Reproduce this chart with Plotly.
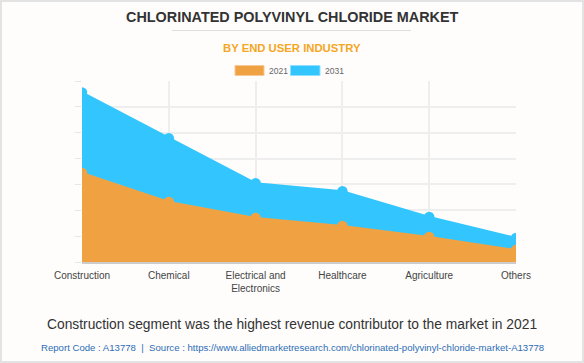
import plotly.graph_objects as go

categories = ["Construction", "Chemical", "Electrical and<br>Electronics", "Healthcare", "Agriculture", "Others"]
values_2021 = [3.44, 2.32, 1.70, 1.39, 0.97, 0.46]
values_2031 = [6.56, 4.79, 3.05, 2.74, 1.74, 0.93]
series_names = ["2021", "2031"]

W, H = 584, 363
L, R, T, B = 82, 68, 81, 101
PW, PH = W - L - R, H - T - B

def px(x):
    return (x - L) / PW

def py(y):
    return 1 - (y - T) / PH

ORANGE = "#F0A243"
BLUE = "#33C6FE"
BG = "#FEFDFC"
FONT = "Liberation Sans, Arial"
CX = 292

fig = go.Figure()
fig.add_trace(go.Scatter(x=categories, y=values_2031, name=series_names[1], mode="lines+markers",
                         fill="tozeroy", fillcolor=BLUE, line=dict(color=BLUE, width=2),
                         marker=dict(size=10.5, color=BLUE), showlegend=False))
fig.add_trace(go.Scatter(x=categories, y=values_2021, name=series_names[0], mode="lines+markers",
                         fill="tozeroy", fillcolor=ORANGE, line=dict(color=ORANGE, width=2),
                         marker=dict(size=10.5, color=ORANGE), showlegend=False))

shapes = [
    dict(type="rect", xref="paper", yref="paper", x0=px(1), x1=px(W - 1), y0=py(H - 1), y1=py(1),
         line=dict(color="#E3E3E3", width=2), fillcolor="rgba(0,0,0,0)", layer="below"),
    dict(type="line", xref="paper", yref="paper", x0=px(172), x1=px(411), y0=py(30.5), y1=py(30.5),
         line=dict(color="#DDDDDD", width=1)),
    dict(type="rect", xref="paper", yref="paper", x0=px(235), x1=px(264), y0=py(75.5), y1=py(65.5),
         fillcolor=ORANGE, line=dict(color="#F7C994", width=1)),
    dict(type="rect", xref="paper", yref="paper", x0=px(290.5), x1=px(320), y0=py(75.5), y1=py(65.5),
         fillcolor=BLUE, line=dict(color="#8FE0FF", width=1)),
]

annotations = [
    dict(text="<b>CHLORINATED POLYVINYL CHLORIDE MARKET</b>", x=px(CX), y=py(17), xref="paper", yref="paper",
         showarrow=False, font=dict(size=14.4, color="#333333", family=FONT), xanchor="center", yanchor="middle"),
    dict(text="<b>BY END USER INDUSTRY</b>", x=px(CX), y=py(48), xref="paper", yref="paper",
         showarrow=False, font=dict(size=11.3, color="#F5A623", family=FONT), xanchor="center", yanchor="middle"),
    dict(text=series_names[0], x=px(267), y=py(70.5), xref="paper", yref="paper", showarrow=False,
         font=dict(size=8.5, color="#666666", family=FONT), xanchor="left", yanchor="middle"),
    dict(text=series_names[1], x=px(323), y=py(70.5), xref="paper", yref="paper", showarrow=False,
         font=dict(size=8.5, color="#666666", family=FONT), xanchor="left", yanchor="middle"),
    dict(text="Construction segment was the highest revenue contributor to the market in 2021", x=px(CX), y=py(324),
         xref="paper", yref="paper", showarrow=False,
         font=dict(size=13.8, color="#333333", family=FONT), xanchor="center", yanchor="middle"),
    dict(text="Report Code : A13778  |  Source : https://www.alliedmarketresearch.com/chlorinated-polyvinyl-chloride-market-A13778",
         x=px(CX), y=py(347), xref="paper", yref="paper", showarrow=False,
         font=dict(size=9.6, color="#2E6DB4", family=FONT), xanchor="center", yanchor="middle"),
]

fig.update_layout(
    width=W, height=H,
    margin=dict(l=L, r=R, t=T, b=B, pad=0),
    paper_bgcolor=BG, plot_bgcolor=BG,
    font=dict(family=FONT, size=10, color="#444444"),
    showlegend=False,
    shapes=shapes, annotations=annotations,
    xaxis=dict(type="category", range=[0, len(categories) - 1], showgrid=True, gridcolor="#EEEEEE", gridwidth=1.5,
               showline=True, linecolor="#CCCCCC", linewidth=1.5, ticks="", ticklabelstandoff=3,
               tickfont=dict(size=10, color="#444444"), fixedrange=True),
    yaxis=dict(range=[0, 7], dtick=1, showgrid=True, gridcolor="#EEEEEE", gridwidth=1.5, showticklabels=False,
               ticks="outside", ticklen=6, tickcolor="#E6E6E6", zeroline=False, showline=False, fixedrange=True),
)

fig.write_html("out.html", config={"displayModeBar": False},
               post_script="document.body.style.margin='0px';document.body.style.overflow='hidden';")
